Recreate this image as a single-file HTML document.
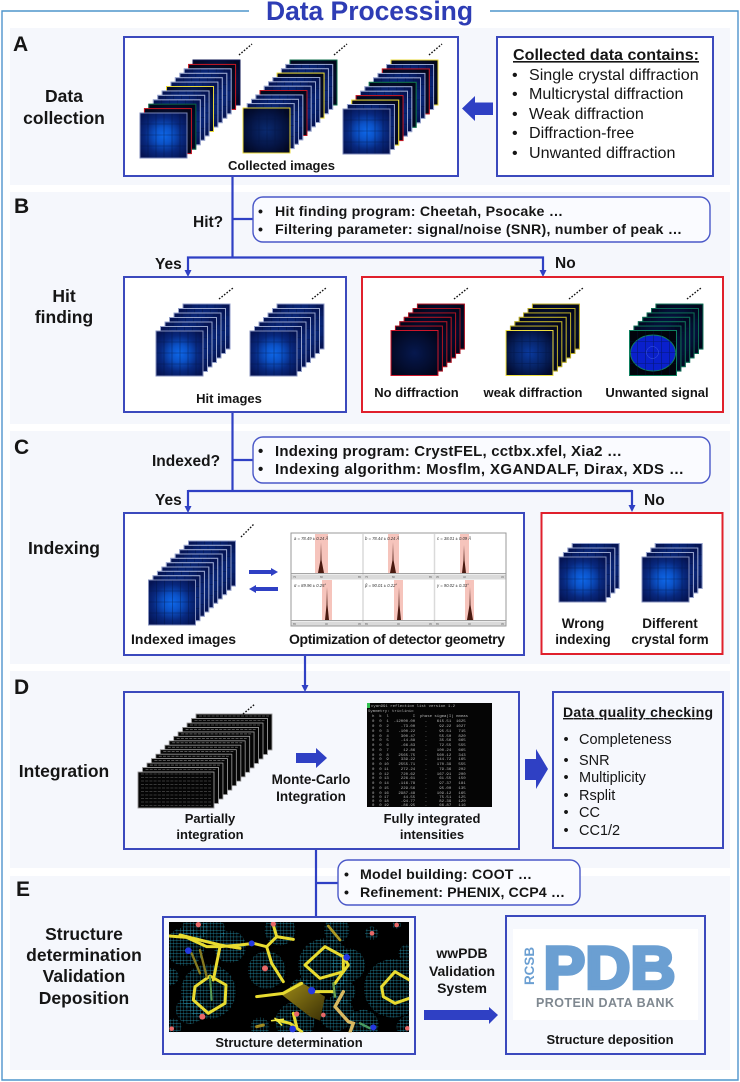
<!DOCTYPE html>
<html><head><meta charset="utf-8"><title>Data Processing</title>
<style>
html,body{margin:0;padding:0;background:#fff;width:740px;height:1082px;overflow:hidden}
svg{display:block}
text{font-family:"Liberation Sans",sans-serif;fill:#151515}
.b{font-weight:bold}
.t{font-weight:bold;font-size:13px;text-anchor:middle}
.s{font-weight:bold;font-size:17.5px;text-anchor:middle}
.l{font-weight:bold;font-size:21px}
.q{font-weight:bold;font-size:15.5px}
.i{font-size:16.1px}
.d{font-size:14.5px}
.c{font-weight:bold;font-size:14.2px}
.c2{font-weight:bold;font-size:15px}
.m text{font-family:"Liberation Mono",monospace;font-size:4px;fill:#b4b4b4;white-space:pre}
.g{font-style:italic;font-size:4.2px;fill:#333}
.x{font-size:2.6px;fill:#666}
.box{fill:#fff;stroke:#3b49bd;stroke-width:2}
.box2{fill:#f6f8fd;stroke:#3b49bd;stroke-width:2}
.red{fill:#fff;stroke:#e0202c;stroke-width:2}
.call{fill:#fafbff;stroke:#4a58c8;stroke-width:1.4}
.ln{stroke:#2f40c4;stroke-width:2.2;fill:none}
.ar{fill:#2f40c4}
.dots{stroke:#111;stroke-width:1.4;stroke-dasharray:1.6 1.6;fill:none}
</style></head><body>
<svg width="740" height="1082" viewBox="0 0 740 1082" xmlns="http://www.w3.org/2000/svg">
<defs>
<radialGradient id="gb" cx="50%" cy="50%" r="62%"><stop offset="0" stop-color="#0e68ea"/><stop offset=".3" stop-color="#0b52c8"/><stop offset=".65" stop-color="#08287e"/><stop offset="1" stop-color="#051454"/></radialGradient>
<radialGradient id="gd" cx="50%" cy="50%" r="60%"><stop offset="0" stop-color="#0a2a70"/><stop offset=".6" stop-color="#051546"/><stop offset="1" stop-color="#020824"/></radialGradient>
<radialGradient id="gw" cx="50%" cy="50%" r="60%"><stop offset="0" stop-color="#0a3aa0"/><stop offset=".6" stop-color="#06205e"/><stop offset="1" stop-color="#020a2e"/></radialGradient>
<radialGradient id="gn" cx="50%" cy="50%" r="60%"><stop offset="0" stop-color="#06184e"/><stop offset=".7" stop-color="#030c2c"/><stop offset="1" stop-color="#02061c"/></radialGradient>
<linearGradient id="sheet" x1="0" y1="0" x2="1" y2="1"><stop offset="0" stop-color="#a08c18"/><stop offset="1" stop-color="#3a3006"/></linearGradient>
<pattern id="mesh" width="10" height="10" patternUnits="userSpaceOnUse"><path d="M0 0H10M0 0V10" stroke="#28a0bc" stroke-width="1.8" fill="none"/></pattern>
<clipPath id="mc"><rect x="507" y="216" width="721" height="331"/></clipPath>
<path id="grid" d="M8 0V45M16 0V45M24 0V45M32 0V45M40 0V45M0 11H47M0 22H47M0 33H47" stroke="#041440" stroke-width=".6" stroke-opacity=".6" fill="none"/>
<g id="ib"><rect width="47" height="45" fill="url(#gb)"/><use href="#grid"/><rect width="47" height="45" fill="none"/></g>
<g id="id"><rect width="47" height="45" fill="url(#gd)"/><use href="#grid"/><rect width="47" height="45" fill="none"/></g>
<g id="iw"><rect width="47" height="45" fill="url(#gw)"/><use href="#grid"/><rect width="47" height="45" fill="none"/></g>
<g id="in"><rect width="47" height="45" fill="url(#gn)"/><rect width="47" height="45" fill="none"/></g>
<g id="iu"><rect width="47" height="45" fill="#01040c"/><ellipse cx="23.5" cy="22.5" rx="22.5" ry="18" fill="#0a20cc"/><use href="#grid"/><circle cx="23" cy="22" r="6" fill="none" stroke="#3f5ce0" stroke-width=".5"/><rect width="47" height="45" fill="none"/></g>
<g id="tr"><rect width="76" height="36" fill="#050505"/><path d="M3 2H73" stroke="#8c8c8c" stroke-width=".6" stroke-dasharray="3 1.2" fill="none"/><rect width="76" height="36" fill="none"/></g>
<g id="trf"><rect width="76" height="36" fill="#050505"/><path d="M3 2H73M3 5.5H73M3 9H73M3 12.5H73M3 16H73M3 19.5H73M3 23H73M3 26.5H73M3 30H73M3 33.5H73" stroke="#6c6c6c" stroke-width=".6" stroke-dasharray="3 1.2" fill="none"/><rect width="76" height="36" fill="none"/></g>
</defs>

<!-- frame and panels -->
<path d="M249 11H2V1080H738V11H490" fill="none" stroke="#4f95cc" stroke-width="1.4"/>
<text x="369.5" y="20" class="b" font-size="26.5" style="fill:#2e3db5" text-anchor="middle" textLength="207" lengthAdjust="spacing">Data Processing</text>
<g fill="#f5f7fc">
<rect x="10" y="28" width="720" height="157"/>
<rect x="10" y="192" width="720" height="232"/>
<rect x="10" y="431" width="720" height="233"/>
<rect x="10" y="671" width="720" height="197"/>
<rect x="10" y="876" width="720" height="194"/>
</g>

<text class="l" x="13" y="51">A</text>
<text class="l" x="14" y="213">B</text>
<text class="l" x="14" y="454">C</text>
<text class="l" x="14" y="694">D</text>
<text class="l" x="16" y="896">E</text>

<text class="s" x="64" y="102">Data</text><text class="s" x="64" y="124">collection</text>
<text class="s" x="64" y="302">Hit</text><text class="s" x="64" y="323">finding</text>
<text class="s" x="64" y="554">Indexing</text>
<text class="s" x="64" y="777">Integration</text>
<text class="s" x="84" y="940">Structure</text><text class="s" x="84" y="961">determination</text><text class="s" x="84" y="982">Validation</text><text class="s" x="84" y="1004">Deposition</text>

<!-- connectors -->
<path class="ln" d="M232.5 176V257.5M232.5 219H253M188 257.5H543M188 256.4V271M543 256.4V271"/>
<polygon class="ar" points="184.5,270 191.5,270 188,277"/><polygon class="ar" points="539.5,270 546.5,270 543,277"/>
<path class="ln" d="M232.5 412V491M232.5 460H253M188 491H632M188 490V507M632 490V506"/>
<polygon class="ar" points="184.5,506 191.5,506 188,513"/><polygon class="ar" points="628.5,505 635.5,505 632,512"/>
<path class="ln" d="M305 655V686"/><polygon class="ar" points="301.5,685 308.5,685 305,692"/>
<path class="ln" d="M316 849V917M316 883H338"/>

<!-- A -->
<rect class="box" x="124" y="37" width="334" height="139"/>
<g transform="translate(140,113)" stroke="#97a3cc" stroke-width=".9">
<use href="#id" x="53" y="-53" stroke="#0a1450"/>
<use href="#in" x="48.6" y="-48.6" stroke="#c01824"/>
<use href="#ib" x="44.2" y="-44.2"/><use href="#ib" x="39.8" y="-39.7"/><use href="#ib" x="35.3" y="-35.3"/><use href="#ib" x="30.9" y="-30.9"/>
<use href="#iw" x="26.5" y="-26.5" stroke="#e8d838"/>
<use href="#ib" x="22.1" y="-22.1"/><use href="#ib" x="17.7" y="-17.7"/><use href="#ib" x="13.3" y="-13.2"/>
<use href="#in" x="8.8" y="-8.8" stroke="#0c5a44"/>
<use href="#in" x="4.4" y="-4.4" stroke="#c01824"/>
<use href="#ib" x="0" y="0" stroke="#7c88b8"/>
</g>
<path class="dots" d="M239 55L252 44"/>
<g transform="translate(243,108)" stroke="#97a3cc" stroke-width=".9">
<use href="#in" x="47" y="-48" stroke="#10704c"/>
<use href="#ib" x="42.7" y="-43.6"/><use href="#ib" x="38.4" y="-39.3"/>
<use href="#in" x="34.1" y="-34.9" stroke="#e8d838"/>
<use href="#ib" x="29.8" y="-30.5"/><use href="#ib" x="25.5" y="-26.2"/><use href="#ib" x="21.2" y="-21.8"/>
<use href="#in" x="17" y="-17.5" stroke="#c01824"/>
<use href="#ib" x="12.8" y="-13.1"/><use href="#ib" x="8.5" y="-8.7"/><use href="#ib" x="4.2" y="-4.4"/>
<use href="#id" x="0" y="0" stroke="#e8d838"/>
</g>
<path class="dots" d="M334 55L347 44"/>
<g transform="translate(343,109)" stroke="#97a3cc" stroke-width=".9">
<use href="#in" x="48" y="-49" stroke="#e8d838"/>
<use href="#ib" x="43.6" y="-44.5"/>
<use href="#in" x="39.3" y="-40.1" stroke="#c01824"/>
<use href="#ib" x="34.9" y="-35.6"/><use href="#ib" x="30.5" y="-31.2"/>
<use href="#in" x="26.2" y="-26.7" stroke="#10704c"/>
<use href="#ib" x="21.8" y="-22.3"/><use href="#ib" x="17.5" y="-17.8"/>
<use href="#in" x="13.1" y="-13.4" stroke="#c01824"/>
<use href="#in" x="8.7" y="-8.9" stroke="#e8d838"/>
<use href="#ib" x="4.4" y="-4.5"/>
<use href="#ib" x="0" y="0" stroke="#7c88b8"/>
</g>
<path class="dots" d="M429 55L442 44"/>
<text class="t" x="281.5" y="170">Collected images</text>

<polygon class="ar" points="493,102.5 475,102.5 475,96 462,108.5 475,121 475,115 493,115"/>
<rect class="box" x="497" y="37" width="216" height="139"/>
<text x="513" y="60" class="b" font-size="16.1" text-decoration="underline">Collected data contains:</text>
<g class="i"><text x="512" y="80">•</text><text x="529" y="80">Single crystal diffraction</text>
<text x="512" y="99">•</text><text x="529" y="99">Multicrystal diffraction</text>
<text x="512" y="119">•</text><text x="529" y="119">Weak diffraction</text>
<text x="512" y="138">•</text><text x="529" y="138">Diffraction-free</text>
<text x="512" y="158">•</text><text x="529" y="158">Unwanted diffraction</text></g>

<!-- B -->
<rect class="call" x="253" y="197" width="457" height="45" rx="10"/>
<text class="c" x="258" y="216">•</text><text class="c" x="275" y="216" textLength="288" lengthAdjust="spacing">Hit finding program: Cheetah, Psocake …</text>
<text class="c" x="258" y="234">•</text><text class="c" x="275" y="234" textLength="407" lengthAdjust="spacing">Filtering parameter: signal/noise (SNR), number of peak …</text>
<text class="q" x="193" y="227">Hit?</text>
<text class="q" x="155" y="269">Yes</text>
<text class="q" x="555" y="268">No</text>

<rect class="box" x="124" y="277" width="222" height="135"/>
<g transform="translate(156,331)" stroke="#97a3cc" stroke-width=".9">
<use href="#ib" x="27" y="-27" stroke="#8f9bc8"/><use href="#ib" x="22.5" y="-22.5"/><use href="#ib" x="18" y="-18"/><use href="#ib" x="13.5" y="-13.5"/><use href="#ib" x="9" y="-9"/><use href="#ib" x="4.5" y="-4.5"/><use href="#ib" stroke="#8590bc"/>
</g>
<path class="dots" d="M219 299L233 288"/>
<g transform="translate(250,331)" stroke="#97a3cc" stroke-width=".9">
<use href="#ib" x="27" y="-27" stroke="#8f9bc8"/><use href="#ib" x="22.5" y="-22.5"/><use href="#ib" x="18" y="-18"/><use href="#ib" x="13.5" y="-13.5"/><use href="#ib" x="9" y="-9"/><use href="#ib" x="4.5" y="-4.5"/><use href="#ib" stroke="#8590bc"/>
</g>
<path class="dots" d="M312 299L326 288"/>
<text class="t" x="229" y="403">Hit images</text>

<rect class="red" x="362" y="277" width="361" height="135"/>
<g transform="translate(391,330.5)" stroke="#a81424" stroke-width=".9">
<use href="#in" x="26.4" y="-26.4"/><use href="#in" x="22" y="-22"/><use href="#in" x="17.6" y="-17.6"/><use href="#in" x="13.2" y="-13.2"/><use href="#in" x="8.8" y="-8.8"/><use href="#in" x="4.4" y="-4.4"/><use href="#in" stroke="#d0182c"/>
</g>
<path class="dots" d="M454 299L468 288"/>
<g transform="translate(506,330.5)" stroke="#b8aa28" stroke-width=".9">
<use href="#in" x="26.4" y="-26.4"/><use href="#in" x="22" y="-22"/><use href="#in" x="17.6" y="-17.6"/><use href="#in" x="13.2" y="-13.2"/><use href="#in" x="8.8" y="-8.8"/><use href="#in" x="4.4" y="-4.4"/><use href="#iw" stroke="#f0e040"/>
</g>
<path class="dots" d="M569 299L583 288"/>
<g transform="translate(629.5,330.5)" stroke="#0e6c54" stroke-width=".9">
<use href="#in" x="26.4" y="-26.4"/><use href="#id" x="22" y="-22"/><use href="#id" x="17.6" y="-17.6"/><use href="#id" x="13.2" y="-13.2"/><use href="#id" x="8.8" y="-8.8"/><use href="#id" x="4.4" y="-4.4"/><use href="#iu" stroke="#108060"/>
</g>
<path class="dots" d="M687 299L701 288"/>
<text class="t" x="416.5" y="397">No diffraction</text>
<text class="t" x="533" y="397">weak diffraction</text>
<text class="t" x="657" y="397">Unwanted signal</text>

<!-- C -->
<rect class="call" x="253" y="437" width="457" height="46" rx="10"/>
<text class="c2" x="258" y="456">•</text><text class="c2" x="275" y="456" textLength="347" lengthAdjust="spacing">Indexing program: CrystFEL, cctbx.xfel, Xia2 …</text>
<text class="c2" x="258" y="474">•</text><text class="c2" x="275" y="474" textLength="409" lengthAdjust="spacing">Indexing algorithm: Mosflm, XGANDALF, Dirax, XDS …</text>
<text class="q" x="152" y="466">Indexed?</text>
<text class="q" x="155" y="505">Yes</text>
<text class="q" x="644" y="505">No</text>

<rect class="box" x="124" y="513" width="400" height="142"/>
<g transform="translate(148.5,580)" stroke="#97a3cc" stroke-width=".9">
<use href="#ib" x="40" y="-39" stroke="#8f9bc8"/><use href="#ib" x="35.5" y="-34.7"/><use href="#ib" x="31.1" y="-30.3"/><use href="#ib" x="26.7" y="-26"/><use href="#ib" x="22.2" y="-21.7"/><use href="#ib" x="17.8" y="-17.3"/><use href="#ib" x="13.3" y="-13"/><use href="#ib" x="8.9" y="-8.7"/><use href="#ib" x="4.4" y="-4.3"/><use href="#ib" stroke="#8590bc"/>
</g>
<path class="dots" d="M241 537L254 524"/>
<text class="b" x="131" y="644" font-size="14">Indexed images</text>
<polygon class="ar" points="249,570 271,570 271,568 278,572 271,576 271,574 249,574"/>
<polygon class="ar" points="278,587 256,587 256,585 249,589 256,593 256,591 278,591"/>

<!-- chart -->
<rect x="291" y="533" width="215" height="93" fill="#fff" stroke="#999" stroke-width="1"/>
<g fill="#f6c4bc"><rect x="315" y="534" width="13" height="39"/><rect x="388" y="534" width="11" height="39"/><rect x="460" y="534" width="9" height="39"/><rect x="322" y="580" width="10" height="40"/><rect x="394" y="580" width="9" height="40"/><rect x="465" y="580" width="9" height="40"/></g>
<g fill="#4a1a10"><polygon points="318,573 320.5,560 321,542 321.5,560 324,573"/><polygon points="390,573 392.5,560 393,542 393.5,560 396,573"/><polygon points="462,573 463.5,560 464,545 464.5,560 466,573"/><polygon points="325,620 326.5,605 327,587 327.5,605 329,620"/><polygon points="397,620 398.5,605 399,587 399.5,605 401,620"/><polygon points="467,620 469.5,605 470,587 470.5,605 473,620"/></g>
<g stroke="#dadada" fill="none"><path d="M291.5 577H505.5" stroke-width="5"/><path d="M291.5 623.5H505.5" stroke-width="4"/><path d="M363 534V625M434.5 534V625" stroke-width="1.5"/></g>
<path d="M291.5 573.5H505.5M291.5 620.5H505.5" stroke="#888" stroke-width=".8"/>
<text class="g" x="294" y="540">a = 78.49 ± 0.24 Å</text><text class="g" x="365" y="540">b = 78.44 ± 0.24 Å</text><text class="g" x="437" y="540">c = 38.01 ± 0.09 Å</text>
<text class="g" x="294" y="587">α = 89.96 ± 0.25°</text><text class="g" x="365" y="587">β = 90.01 ± 0.22°</text><text class="g" x="437" y="587">γ = 90.02 ± 0.33°</text>
<text class="x" x="293" y="578">75</text><text class="x" x="320" y="578">80</text><text class="x" x="358" y="578">85</text><text class="x" x="365" y="578">75</text><text class="x" x="392" y="578">80</text><text class="x" x="429" y="578">85</text><text class="x" x="436" y="578">35</text><text class="x" x="463" y="578">40</text><text class="x" x="501" y="578">45</text>
<text class="x" x="293" y="625">85</text><text class="x" x="325" y="625">90</text><text class="x" x="358" y="625">95</text><text class="x" x="365" y="625">85</text><text class="x" x="397" y="625">90</text><text class="x" x="429" y="625">95</text><text class="x" x="436" y="625">85</text><text class="x" x="468" y="625">90</text><text class="x" x="501" y="625">95</text>
<text x="289" y="644" class="b" font-size="14" textLength="216" lengthAdjust="spacing">Optimization of detector geometry</text>

<rect class="red" x="541.5" y="513" width="181" height="141"/>
<g transform="translate(559,557)" stroke="#97a3cc" stroke-width=".9"><use href="#ib" x="13.2" y="-13.5"/><use href="#ib" x="8.8" y="-9"/><use href="#ib" x="4.4" y="-4.5"/><use href="#ib" stroke="#8590bc"/></g>
<g transform="translate(642,557)" stroke="#97a3cc" stroke-width=".9"><use href="#ib" x="13.2" y="-13.5"/><use href="#ib" x="8.8" y="-9"/><use href="#ib" x="4.4" y="-4.5"/><use href="#ib" stroke="#8590bc"/></g>
<text class="t" x="583" y="628" style="font-size:13.5px">Wrong</text><text class="t" x="583" y="644" style="font-size:13.5px">indexing</text>
<text class="t" x="670" y="628" style="font-size:13.5px">Different</text><text class="t" x="670" y="644" style="font-size:13.5px">crystal form</text>

<!-- D -->
<rect class="box2" x="124" y="692" width="395" height="157"/>
<g transform="translate(138,772)" stroke="#9a9a9a" stroke-width=".7">
<use href="#tr" x="58" y="-58"/><use href="#tr" x="53.5" y="-53.5"/><use href="#tr" x="49" y="-49"/><use href="#tr" x="44.6" y="-44.6"/><use href="#tr" x="40.1" y="-40.1"/><use href="#tr" x="35.7" y="-35.7"/><use href="#tr" x="31.2" y="-31.2"/><use href="#tr" x="26.8" y="-26.8"/><use href="#tr" x="22.3" y="-22.3"/><use href="#tr" x="17.8" y="-17.8"/><use href="#tr" x="13.4" y="-13.4"/><use href="#tr" x="8.9" y="-8.9"/><use href="#tr" x="4.5" y="-4.5"/><use href="#trf"/>
</g>
<path class="dots" d="M243 714L255 704"/>
<text class="t" x="210" y="823">Partially</text><text class="t" x="210" y="839">integration</text>
<polygon class="ar" points="296,753 316,753 316,748 327,758 316,768 316,763 296,763"/>
<text class="b" font-size="13.5" x="311" y="784" text-anchor="middle">Monte-Carlo</text><text class="b" font-size="13.5" x="311" y="801" text-anchor="middle">Integration</text>
<rect x="367" y="703" width="125" height="104" fill="#050505"/>
<rect x="367" y="703" width="3" height="5" fill="#30c050"/>
<g class="m" xml:space="preserve">
<text x="371" y="707">cyan991 reflection list version 1.2</text>
<text x="368" y="712">Symmetry: triclinic</text>
<text x="372" y="717">h  k  l          I  phase sigma(I) nmeas</text>
<text x="372" y="722">0  0  1  -12000.00    -    615.51  1625</text>
<text x="372" y="727">0  0  2     -73.00    -     92.22  1027</text>
<text x="372" y="732">0  0  3    -100.22    -     95.51   715</text>
<text x="372" y="737">0  0  4     300.47    -     55.50   820</text>
<text x="372" y="741">0  0  5     -14.88    -     35.56   665</text>
<text x="372" y="746">0  0  6     -66.83    -     72.55   555</text>
<text x="372" y="751">0  0  7      12.86    -    100.24   665</text>
<text x="372" y="756">0  0  8    2565.75    -    560.12   343</text>
<text x="372" y="760">0  0  9     339.22    -    144.72   165</text>
<text x="372" y="765">0  0 10    2555.71    -    170.39   555</text>
<text x="372" y="770">0  0 11     272.24    -     79.36   202</text>
<text x="372" y="775">0  0 12     720.62    -    167.91   200</text>
<text x="372" y="779">0  0 13     226.61    -     61.55   150</text>
<text x="372" y="784">0  0 14    -116.78    -     97.37   181</text>
<text x="372" y="789">0  0 15     229.56    -     95.00   135</text>
<text x="372" y="794">0  0 16    2987.48    -    109.12   165</text>
<text x="372" y="798">0  0 17      44.55    -     75.51   125</text>
<text x="372" y="802">0  0 18     -94.77    -     82.39   120</text>
<text x="372" y="806">0  0 19     -86.95    -     66.87   116</text>
</g>
<text class="t" x="432" y="823">Fully integrated</text><text class="t" x="432" y="839">intensities</text>

<polygon class="ar" points="525,759 536,759 536,749 548,769 536,789 536,780 525,780"/>
<rect class="box2" x="553" y="692" width="170" height="156"/>
<text x="563" y="717" class="b" font-size="14" text-decoration="underline" textLength="150" lengthAdjust="spacing">Data quality checking</text>
<g class="d"><text x="563.5" y="744">•</text><text x="579" y="744">Completeness</text>
<text x="563.5" y="765">•</text><text x="579" y="765">SNR</text>
<text x="563.5" y="782">•</text><text x="579" y="782">Multiplicity</text>
<text x="563.5" y="800">•</text><text x="579" y="800">Rsplit</text>
<text x="563.5" y="817">•</text><text x="579" y="817">CC</text>
<text x="563.5" y="835">•</text><text x="579" y="835">CC1/2</text></g>

<!-- E -->
<rect class="call" x="338" y="860" width="242" height="45" rx="10"/>
<text class="c" x="344" y="879">•</text><text class="c" x="360" y="879" textLength="172" lengthAdjust="spacing">Model building: COOT …</text>
<text class="c" x="344" y="897">•</text><text class="c" x="360" y="897" textLength="205" lengthAdjust="spacing">Refinement: PHENIX, CCP4 …</text>

<rect class="box2" x="163" y="917" width="252" height="137"/>
<rect x="169" y="922" width="240" height="110" fill="#000"/>
<g transform="translate(0,850) scale(.33333)" clip-path="url(#mc)">
<g fill="url(#mesh)">
<circle cx="585" cy="235" r="38"/><circle cx="555" cy="290" r="58"/><circle cx="690" cy="290" r="48"/><circle cx="640" cy="240" r="36"/><circle cx="625" cy="425" r="82"/><circle cx="570" cy="480" r="42"/><circle cx="800" cy="360" r="56"/><circle cx="840" cy="240" r="46"/><circle cx="975" cy="345" r="80"/><circle cx="1045" cy="345" r="50"/><circle cx="1180" cy="415" r="88"/><circle cx="1115" cy="250" r="20"/><circle cx="1190" cy="225" r="12"/><circle cx="1010" cy="240" r="38"/><circle cx="1030" cy="425" r="36"/><circle cx="1010" cy="490" r="52"/><circle cx="885" cy="515" r="58"/><circle cx="1090" cy="525" r="46"/><circle cx="1222" cy="530" r="32"/><circle cx="520" cy="530" r="24"/><circle cx="780" cy="530" r="28"/><circle cx="510" cy="380" r="26"/><circle cx="1222" cy="310" r="26"/><circle cx="905" cy="420" r="36"/>
</g>
<polygon points="840,430 900,395 975,440 960,512 930,500" fill="url(#sheet)"/>
<g fill="none" stroke="#e8dc30" stroke-width="9" stroke-linejoin="round" stroke-linecap="round">
<path d="M508 258L560 262L620 290L660 290L720 285L760 280L800 290L830 260L880 268"/>
<path d="M540 255L600 270L660 285L720 295"/>
<path d="M660 290L640 390"/><path d="M800 290L815 340L850 395"/><path d="M820 225L830 260"/>
<path d="M585 410L630 378L678 405L675 460L625 490L580 450Z"/>
<path d="M915 345L975 290L1030 320L1030 365L960 385Z"/><path d="M1030 320L1045 345L1030 365L1005 400"/>
<path d="M1145 410L1185 365L1228 390M1228 445L1185 460L1150 440L1145 410"/>
<path d="M770 440L850 430L905 400"/><path d="M945 425L1000 425"/><path d="M830 510L870 520L905 545M880 490L890 530"/>
</g>
<g fill="none" stroke-linecap="round">
<path d="M1005 470L1030 425M1005 470L1045 515L1060 520L1050 547" stroke="#d8b860" stroke-width="10"/>
<path d="M985 228L1020 270" stroke="#b09a24" stroke-width="8"/>
<path d="M575 310L600 370M600 300L620 380" stroke="#857a20" stroke-width="7"/>
<path d="M630 380L635 450" stroke="#5a9a50" stroke-width="6"/>
<path d="M1000 400L1005 440" stroke="#6aa050" stroke-width="7"/>
<path d="M1080 520L1110 535" stroke="#4a9a60" stroke-width="7"/>
<path d="M770 530L790 525" stroke="#a08820" stroke-width="9"/>
<path d="M815 512L850 508M825 505L845 525" stroke="#f0e840" stroke-width="5"/>
</g>
<g fill="#2438e0"><circle cx="565" cy="302" r="10"/><circle cx="755" cy="280" r="9"/><circle cx="935" cy="422" r="11"/><circle cx="1040" cy="322" r="10"/><circle cx="878" cy="537" r="10"/><circle cx="1120" cy="532" r="9"/></g>
<g fill="#e86868"><circle cx="595" cy="224" r="8"/><circle cx="820" cy="222" r="8"/><circle cx="795" cy="355" r="9"/><circle cx="607" cy="500" r="9"/><circle cx="1190" cy="225" r="7"/><circle cx="1116" cy="250" r="7"/><circle cx="890" cy="492" r="8"/><circle cx="515" cy="536" r="7"/><circle cx="1222" cy="535" r="7"/><circle cx="970" cy="495" r="7"/></g>
</g>
<text class="t" x="289" y="1047">Structure determination</text>

<text class="b" font-size="14" x="462" y="958" text-anchor="middle">wwPDB</text><text class="b" font-size="14" x="462" y="976" text-anchor="middle">Validation</text><text class="b" font-size="14" x="462" y="993" text-anchor="middle">System</text>
<polygon class="ar" points="424,1010 489,1010 489,1007 498,1015 489,1024 489,1020 424,1020"/>

<rect class="box2" x="506" y="916" width="199" height="138"/>
<rect x="513" y="929" width="185" height="91" fill="#fff"/>
<text x="543.5" y="988.5" class="b" font-size="60" stroke="#6b9fd2" stroke-width="3.6" style="fill:#6b9fd2" textLength="132" lengthAdjust="spacingAndGlyphs">PDB</text>
<text transform="translate(534,985) rotate(-90)" class="b" font-size="13.4" style="fill:#6b9fd2" textLength="38" lengthAdjust="spacing">RCSB</text>
<text x="536" y="1007" class="b" font-size="12.5" style="fill:#7f8890" textLength="138" lengthAdjust="spacing">PROTEIN DATA BANK</text>
<text class="t" x="610" y="1044">Structure deposition</text>
</svg>
</body></html>
